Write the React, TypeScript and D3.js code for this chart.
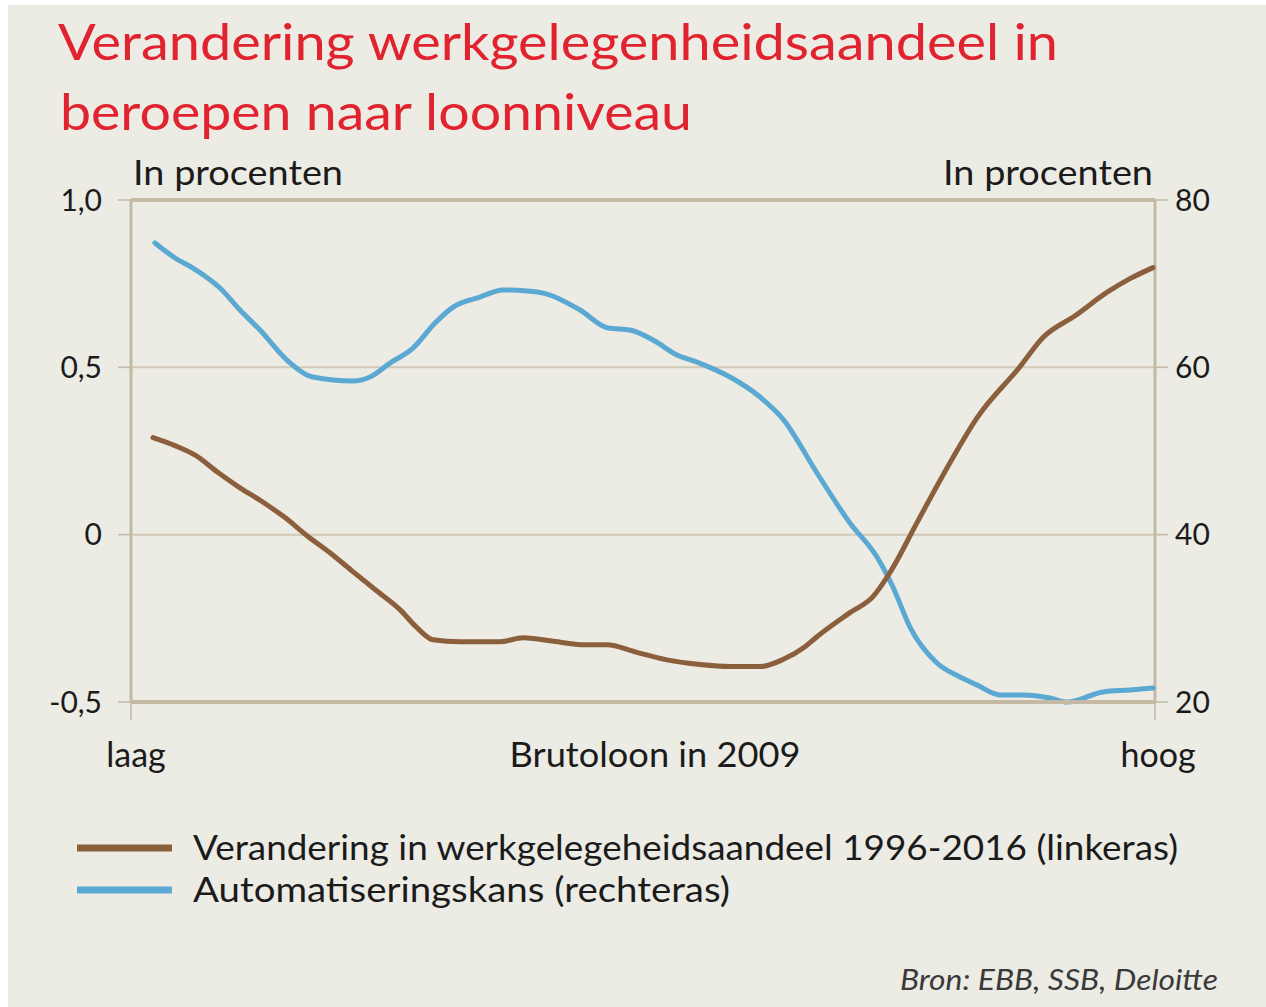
import React from 'react';
import * as d3 from 'd3';

// x = loonpositie (0 = laag, 100 = hoog)
const employmentX = [2.15, 4.3, 6.35, 8.4, 10.64, 12.79, 15.04, 17.19, 19.43, 21.58, 23.83, 26.27, 27.83, 29.49, 32.13, 36.04, 38.28, 40.92, 44.34, 46.48, 49.22, 52.34, 55.57, 58.5, 61.43, 63.67, 65.82, 66.99, 70.21, 72.46, 74.12, 76.76, 79.98, 82.62, 86.82, 89.06, 92.19, 95.41, 97.56, 99.8];
const employmentY = [0.29, 0.266, 0.236, 0.188, 0.14, 0.099, 0.051, -0.003, -0.054, -0.108, -0.164, -0.224, -0.275, -0.314, -0.32, -0.32, -0.308, -0.317, -0.329, -0.329, -0.35, -0.374, -0.388, -0.394, -0.394, -0.373, -0.335, -0.305, -0.233, -0.185, -0.113, 0.036, 0.215, 0.349, 0.502, 0.589, 0.654, 0.726, 0.765, 0.798];

const automationX = [2.34, 4.3, 6.05, 8.69, 10.64, 12.6, 15.23, 17.77, 21.68, 23.34, 25.29, 27.54, 29.69, 31.45, 34.08, 36.33, 38.67, 40.63, 43.85, 46.58, 48.73, 50.98, 53.32, 55.27, 58.5, 61.43, 63.67, 66.99, 70.21, 72.85, 74.41, 76.07, 78.71, 80.96, 82.62, 84.86, 87.11, 89.75, 91.41, 94.92, 97.56, 99.8];
const automationY = [74.86, 73.07, 71.87, 69.48, 66.85, 64.46, 60.87, 58.84, 58.36, 58.84, 60.51, 62.3, 65.29, 67.2, 68.4, 69.24, 69.12, 68.76, 66.85, 64.7, 64.46, 63.26, 61.47, 60.63, 58.84, 56.45, 53.82, 47.37, 41.39, 37.33, 33.74, 28.96, 24.66, 22.99, 22.03, 20.84, 20.84, 20.48, 20.0, 21.2, 21.43, 21.67];

const leftTicks = [1, 0.5, 0, -0.5];
const leftTickLabels = ['1,0', '0,5', '0', '-0,5'];
const rightTicks = [80, 60, 40, 20];
const rightTickLabels = ['80', '60', '40', '20'];

const legendLabels = [
  'Verandering in werkgelegeheidsaandeel 1996-2016 (linkeras)',
  'Automatiseringskans (rechteras)',
];

const W = 1266;
const H = 1007;
const FONT = 'Lato, "Open Sans", sans-serif';
const RED = '#e0232f';
const BROWN = '#8b5e3c';
const BLUE = '#5ba9d3';
const AXIS = '#c3b9a4';
const GRID = '#d2c9b6';
const INK = '#1b1b1b';

export default function App() {
  const left = 131, right = 1155, top = 200, bottom = 702;

  const x = d3.scaleLinear().domain([0, 100]).range([left, right]);
  const yLeft = d3.scaleLinear().domain([-0.5, 1]).range([bottom, top]);
  const yRight = d3.scaleLinear().domain([20, 80]).range([bottom, top]);

  const line = d3.line<[number, number]>()
    .x(d => d[0])
    .y(d => d[1])
    .curve(d3.curveMonotoneX);

  const brownPath = line(employmentX.map((v, i) => [x(v), yLeft(employmentY[i])]));
  const bluePath = line(automationX.map((v, i) => [x(v), yRight(automationY[i])]));

  return (
    <svg width={W} height={H} style={{ position: 'absolute', left: 0, top: 0 }} fontFamily={FONT}>
      <rect x={0} y={0} width={W} height={H} fill="#ffffff" />
      <rect x={8} y={5} width={W - 8} height={H - 5} fill="#ecebe4" />

      {/* title */}
      <text x={58} y={60} fontSize={50} fill={RED} textLength={1000} lengthAdjust="spacingAndGlyphs">
        Verandering werkgelegenheidsaandeel in
      </text>
      <text x={60} y={130} fontSize={50} fill={RED} textLength={632} lengthAdjust="spacingAndGlyphs">
        beroepen naar loonniveau
      </text>

      <text x={133} y={185} fontSize={34} fill={INK} textLength={210} lengthAdjust="spacingAndGlyphs">In procenten</text>
      <text x={943} y={185} fontSize={34} fill={INK} textLength={210} lengthAdjust="spacingAndGlyphs">In procenten</text>

      {/* gridlines */}
      {leftTicks.filter(t => t !== 1 && t !== -0.5).map(t => (
        <line key={'g' + t} x1={left} x2={right} y1={yLeft(t)} y2={yLeft(t)} stroke={GRID} strokeWidth={2} />
      ))}

      {/* ticks */}
      {leftTicks.map((t, i) => (
        <g key={'l' + t}>
          <line x1={left - 13} x2={left} y1={yLeft(t)} y2={yLeft(t)} stroke={AXIS} strokeWidth={1.5} />
          <text x={102} y={yLeft(t)} dy="0.35em" textAnchor="end" fontSize={30} fill={INK}>{leftTickLabels[i]}</text>
        </g>
      ))}
      {rightTicks.map((t, i) => (
        <g key={'r' + t}>
          <line x1={right} x2={right + 13} y1={yRight(t)} y2={yRight(t)} stroke={AXIS} strokeWidth={1.5} />
          <text x={1175} y={yRight(t)} dy="0.35em" textAnchor="start" fontSize={30} fill={INK}>{rightTickLabels[i]}</text>
        </g>
      ))}
      <line x1={left} x2={left} y1={bottom} y2={720} stroke={AXIS} strokeWidth={1.5} />
      <line x1={right} x2={right} y1={bottom} y2={720} stroke={AXIS} strokeWidth={1.5} />

      {/* frame */}
      <line x1={left} x2={right} y1={top} y2={top} stroke={AXIS} strokeWidth={4} />
      <line x1={left} x2={left} y1={top} y2={bottom} stroke={AXIS} strokeWidth={3} />
      <line x1={right} x2={right} y1={top} y2={bottom} stroke={AXIS} strokeWidth={3} />

      {/* series */}
      <path d={bluePath ?? ''} fill="none" stroke={BLUE} strokeWidth={5} strokeLinejoin="round" strokeLinecap="round" />
      <line x1={left} x2={right} y1={bottom} y2={bottom} stroke={AXIS} strokeWidth={4} />
      <path d={brownPath ?? ''} fill="none" stroke={BROWN} strokeWidth={5} strokeLinejoin="round" strokeLinecap="round" />

      {/* x labels */}
      <text x={x(0) + 5} y={767} textAnchor="middle" fontSize={34} fill={INK}>laag</text>
      <text x={655} y={767} textAnchor="middle" fontSize={34} fill={INK} textLength={291} lengthAdjust="spacingAndGlyphs">Brutoloon in 2009</text>
      <text x={x(100) + 3} y={767} textAnchor="middle" fontSize={34} fill={INK}>hoog</text>

      {/* legend */}
      {legendLabels.map((lab, i) => (
        <g key={lab} transform={`translate(0,${848 + i * 42})`}>
          <line x1={77} x2={172} y1={0} y2={0} stroke={i === 0 ? BROWN : BLUE} strokeWidth={7} />
          <text x={193} y={12} fontSize={34} fill={INK} textLength={i === 0 ? 985 : 537} lengthAdjust="spacingAndGlyphs">{lab}</text>
        </g>
      ))}

      <text x={1218} y={990} textAnchor="end" fontSize={29} fontStyle="italic" fill="#3a3a3a" textLength={318} lengthAdjust="spacingAndGlyphs">
        Bron: EBB, SSB, Deloitte
      </text>
    </svg>
  );
}
